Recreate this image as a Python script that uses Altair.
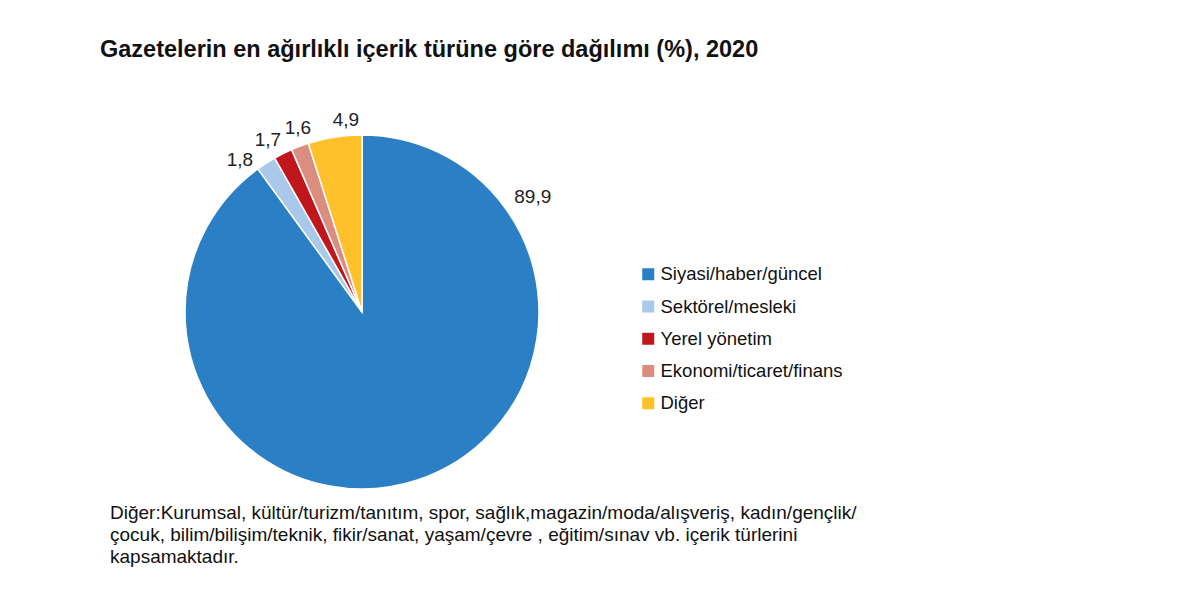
import altair as alt
import pandas as pd

categories = ["Siyasi/haber/güncel", "Sektörel/mesleki", "Yerel yönetim",
              "Ekonomi/ticaret/finans", "Diğer"]
values = [89.9, 1.8, 1.7, 1.6, 4.9]
labels = ["89,9", "1,8", "1,7", "1,6", "4,9"]
colors = ["#2A7FC5", "#A9C8EA", "#C0171C", "#DB8D80", "#FFC02A"]
# where each value label sits along the circle (in the same units as the values)
label_theta = [15.54, 89.15, 91.94, 94.57, 98.57]
# distance of each value label from the pie centre (px)
label_radius = [206, 195, 196, 195, 193]

title_text = "Gazetelerin en ağırlıklı içerik türüne göre dağılımı (%), 2020"
note_lines = [
    "Diğer:Kurumsal, kültür/turizm/tanıtım, spor, sağlık,magazin/moda/alışveriş, kadın/gençlik/",
    "çocuk, bilim/bilişim/teknik, fikir/sanat, yaşam/çevre , eğitim/sınav vb. içerik türlerini",
    "kapsamaktadır.",
]

FONT = "Liberation Sans"

df = pd.DataFrame({
    "kategori": categories,
    "deger": values,
    "etiket": labels,
    "lpos": label_theta,
    "lrad": label_radius,
    "sira": list(range(len(categories))),
})

color_scale = alt.Scale(domain=categories, range=colors)

arcs = alt.Chart(df).mark_arc(outerRadius=177, stroke="white", strokeWidth=1.5).encode(
    theta=alt.Theta("deger:Q", stack=True),
    color=alt.Color(
        "kategori:N", scale=color_scale, sort=categories,
        legend=alt.Legend(
            title=None, orient="none", legendX=539, legendY=197,
            symbolType="square", symbolSize=144, symbolStrokeWidth=0,
            labelFont=FONT, labelFontSize=18.5, labelColor="#111", labelLimit=400,
            rowPadding=13.25, labelOffset=3, padding=0,
        ),
    ),
    order=alt.Order("sira:Q"),
)

text = alt.Chart(df).mark_text(
    font=FONT, fontSize=19, color="#222", align="center", baseline="middle"
).encode(
    theta=alt.Theta("lpos:Q", stack=None),
    radius=alt.Radius("lrad:Q", scale=None),
    text="etiket:N",
)

note = alt.Chart(pd.DataFrame({"t": [note_lines]})).mark_text(
    font=FONT, fontSize=19, color="#111", align="left", baseline="top", lineHeight=22
).encode(
    x=alt.value(10), y=alt.value(436), text="t"
)

chart = alt.layer(arcs, text, note).properties(
    width=524, height=488,
    autosize=alt.AutoSizeParams(type="none"),
    padding={"left": 92, "top": 60, "right": 568, "bottom": 36},
    background="white",
    title=alt.TitleParams(title_text, anchor="start", font=FONT, fontSize=23.5,
                          fontWeight="bold", color="#111", offset=7),
).configure_view(strokeWidth=0)

chart.save("out.html", embed_options={"renderer": "svg", "actions": False})
